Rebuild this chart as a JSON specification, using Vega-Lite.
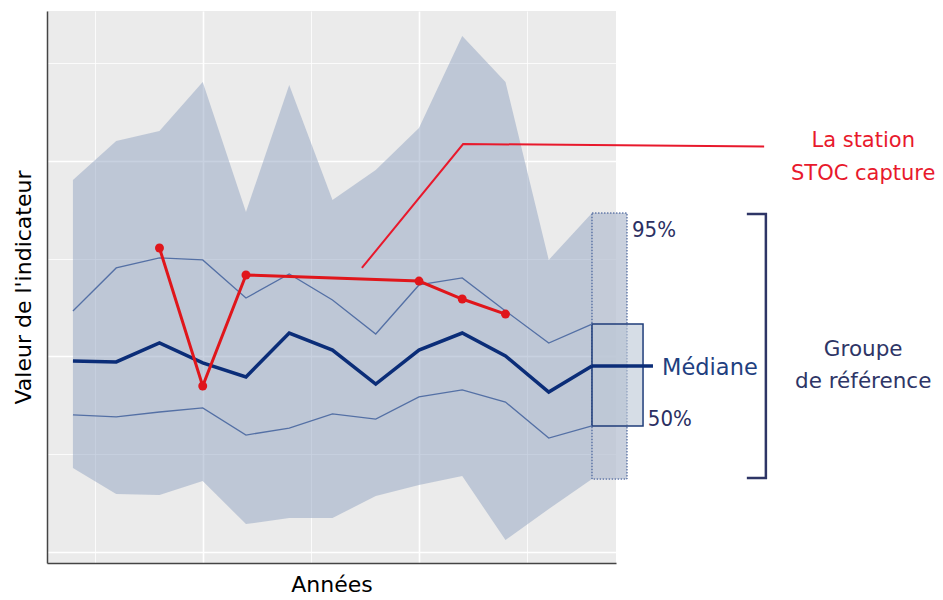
{
  "$schema": "https://vega.github.io/schema/vega-lite/v6.json",
  "width": 569,
  "height": 552,
  "autosize": {"type": "none"},
  "padding": {"left": 47, "top": 11, "right": 327, "bottom": 37},
  "background": "white",
  "config": {
    "font": "DejaVu Sans",
    "view": {"fill": "#EBEBEB", "stroke": null}
  },
  "datasets": {
    "reference": [
      {"annee": 2002, "q025": 4.30, "q25": 7.01, "mediane": 9.77, "q75": 12.33, "q975": 19.03},
      {"annee": 2003, "q025": 2.97, "q25": 6.91, "mediane": 9.72, "q75": 14.53, "q975": 21.02},
      {"annee": 2004, "q025": 2.92, "q25": 7.16, "mediane": 10.69, "q75": 15.04, "q975": 21.53},
      {"annee": 2005, "q025": 3.63, "q25": 7.37, "mediane": 9.67, "q75": 14.94, "q975": 24.04},
      {"annee": 2006, "q025": 1.43, "q25": 5.98, "mediane": 8.95, "q75": 12.99, "q975": 17.39},
      {"annee": 2007, "q025": 1.74, "q25": 6.34, "mediane": 11.20, "q75": 14.22, "q975": 23.89},
      {"annee": 2008, "q025": 1.74, "q25": 7.06, "mediane": 10.33, "q75": 12.89, "q975": 18.01},
      {"annee": 2009, "q025": 2.86, "q25": 6.80, "mediane": 8.59, "q75": 11.15, "q975": 19.54},
      {"annee": 2010, "q025": 3.43, "q25": 7.93, "mediane": 10.33, "q75": 13.66, "q975": 21.69},
      {"annee": 2011, "q025": 3.89, "q25": 8.29, "mediane": 11.20, "q75": 14.02, "q975": 26.39},
      {"annee": 2012, "q025": 0.61, "q25": 7.67, "mediane": 10.03, "q75": 12.33, "q975": 24.04},
      {"annee": 2013, "q025": 2.20, "q25": 5.83, "mediane": 8.18, "q75": 10.69, "q975": 14.94},
      {"annee": 2014, "q025": 3.73, "q25": 6.45, "mediane": 9.51, "q75": 11.66, "q975": 17.34}
    ],
    "station": [
      {"annee": 2004, "valeur": 15.55},
      {"annee": 2005, "valeur": 8.49},
      {"annee": 2006, "valeur": 14.17},
      {"annee": 2010, "valeur": 13.86},
      {"annee": 2011, "valeur": 12.94},
      {"annee": 2012, "valeur": 12.17}
    ],
    "boites": [
      {"boite": "95%", "debut": 2014, "fin": 2014.81, "bas": 3.73, "haut": 17.34},
      {"boite": "50%", "debut": 2014, "fin": 2015.18, "bas": 6.45, "haut": 11.66}
    ],
    "prolongement": [
      {"debut": 2014, "fin": 2015.41, "valeur": 9.51}
    ],
    "renvoi": [
      {"annee": 2008.68, "valeur": 14.53},
      {"annee": 2011.02, "valeur": 20.87},
      {"annee": 2017.98, "valeur": 20.74}
    ],
    "crochet": [
      {"ordre": 1, "annee": 2017.58, "valeur": 17.29},
      {"ordre": 2, "annee": 2018.02, "valeur": 17.29},
      {"ordre": 3, "annee": 2018.02, "valeur": 3.79},
      {"ordre": 4, "annee": 2017.58, "valeur": 3.79}
    ],
    "textes": [
      {"groupe": "station", "texte": "La station", "annee": 2020.27, "valeur": 20.72},
      {"groupe": "station", "texte": "STOC capture", "annee": 2020.27, "valeur": 19.03},
      {"groupe": "reference", "texte": "Groupe", "annee": 2020.27, "valeur": 10.03},
      {"groupe": "reference", "texte": "de référence", "annee": 2020.27, "valeur": 8.39},
      {"groupe": "mediane", "texte": "Médiane", "annee": 2015.62, "valeur": 9.05},
      {"groupe": "pourcent", "texte": "95%", "annee": 2014.925, "valeur": 16.11},
      {"groupe": "pourcent", "texte": "50%", "annee": 2015.29, "valeur": 6.45}
    ]
  },
  "layer": [
    {
      "data": {"name": "reference"},
      "mark": {"type": "area", "color": "#91A3C1", "opacity": 0.5},
      "encoding": {
        "x": {
          "field": "annee", "type": "quantitative",
          "scale": {"domain": [2001.4, 2014.555], "nice": false, "zero": false},
          "axis": {
            "title": "Années", "titleFontSize": 22, "titleFontWeight": "normal", "titleColor": "black",
            "titlePadding": 11, "labels": false, "ticks": false,
            "domainColor": "#444444", "domainWidth": 1.5,
            "values": [2002.5, 2005, 2007.5, 2010, 2012.5],
            "grid": true, "gridColor": "white",
            "gridWidth": {"condition": {"test": "datum.value % 5 === 0", "value": 1.6}, "value": 0.8}
          }
        },
        "y": {
          "field": "q975", "type": "quantitative",
          "scale": {"domain": [-0.563, 27.673], "nice": false, "zero": false},
          "axis": {
            "title": "Valeur de l'indicateur", "titleFontSize": 22, "titleFontWeight": "normal", "titleColor": "black",
            "titlePadding": 12, "labels": false, "ticks": false,
            "domainColor": "#444444", "domainWidth": 1.5,
            "values": [0, 5, 10, 15, 20, 25],
            "grid": true, "gridColor": "white",
            "gridWidth": {"condition": {"test": "datum.value % 10 === 0", "value": 1.6}, "value": 0.8}
          }
        },
        "y2": {"field": "q025"}
      }
    },
    {
      "data": {"name": "boites"},
      "transform": [{"filter": "datum.boite === '95%'"}],
      "mark": {"type": "rect", "fill": "#B7C0D2", "fillOpacity": 0.75, "stroke": "#2B4A8C", "strokeWidth": 1, "strokeDash": [1.5, 1.5]},
      "encoding": {
        "x": {"field": "debut", "type": "quantitative", "scale": {"domain": [2001.4, 2014.555], "nice": false, "zero": false}},
        "x2": {"field": "fin"},
        "y": {"field": "haut", "type": "quantitative", "scale": {"domain": [-0.563, 27.673], "nice": false, "zero": false}},
        "y2": {"field": "bas"}
      }
    },
    {
      "data": {"name": "boites"},
      "transform": [{"filter": "datum.boite === '50%'"}],
      "mark": {"type": "rect", "fill": "#BAC6D6", "fillOpacity": 0.6, "stroke": "#1F3D7A", "strokeWidth": 1.5},
      "encoding": {
        "x": {"field": "debut", "type": "quantitative", "scale": {"domain": [2001.4, 2014.555], "nice": false, "zero": false}},
        "x2": {"field": "fin"},
        "y": {"field": "haut", "type": "quantitative", "scale": {"domain": [-0.563, 27.673], "nice": false, "zero": false}},
        "y2": {"field": "bas"}
      }
    },
    {
      "data": {"name": "reference"},
      "mark": {"type": "line", "color": "#5470A5", "strokeWidth": 1.3},
      "encoding": {
        "x": {"field": "annee", "type": "quantitative", "scale": {"domain": [2001.4, 2014.555], "nice": false, "zero": false}},
        "y": {"field": "q75", "type": "quantitative", "scale": {"domain": [-0.563, 27.673], "nice": false, "zero": false}}
      }
    },
    {
      "data": {"name": "reference"},
      "mark": {"type": "line", "color": "#5470A5", "strokeWidth": 1.3},
      "encoding": {
        "x": {"field": "annee", "type": "quantitative", "scale": {"domain": [2001.4, 2014.555], "nice": false, "zero": false}},
        "y": {"field": "q25", "type": "quantitative", "scale": {"domain": [-0.563, 27.673], "nice": false, "zero": false}}
      }
    },
    {
      "data": {"name": "reference"},
      "mark": {"type": "line", "color": "#0B2D78", "strokeWidth": 3.5},
      "encoding": {
        "x": {"field": "annee", "type": "quantitative", "scale": {"domain": [2001.4, 2014.555], "nice": false, "zero": false}},
        "y": {"field": "mediane", "type": "quantitative", "scale": {"domain": [-0.563, 27.673], "nice": false, "zero": false}}
      }
    },
    {
      "data": {"name": "prolongement"},
      "mark": {"type": "rule", "color": "#0B2D78", "strokeWidth": 3.5},
      "encoding": {
        "x": {"field": "debut", "type": "quantitative", "scale": {"domain": [2001.4, 2014.555], "nice": false, "zero": false}},
        "x2": {"field": "fin"},
        "y": {"field": "valeur", "type": "quantitative", "scale": {"domain": [-0.563, 27.673], "nice": false, "zero": false}}
      }
    },
    {
      "data": {"name": "station"},
      "mark": {"type": "line", "color": "#E0161B", "strokeWidth": 3, "point": {"filled": true, "size": 80, "color": "#E0161B"}},
      "encoding": {
        "x": {"field": "annee", "type": "quantitative", "scale": {"domain": [2001.4, 2014.555], "nice": false, "zero": false}},
        "y": {"field": "valeur", "type": "quantitative", "scale": {"domain": [-0.563, 27.673], "nice": false, "zero": false}}
      }
    },
    {
      "data": {"name": "renvoi"},
      "mark": {"type": "line", "color": "#E8192C", "strokeWidth": 2},
      "encoding": {
        "x": {"field": "annee", "type": "quantitative", "scale": {"domain": [2001.4, 2014.555], "nice": false, "zero": false}},
        "y": {"field": "valeur", "type": "quantitative", "scale": {"domain": [-0.563, 27.673], "nice": false, "zero": false}}
      }
    },
    {
      "data": {"name": "crochet"},
      "mark": {"type": "line", "color": "#2E3566", "strokeWidth": 2.5, "strokeJoin": "miter"},
      "encoding": {
        "x": {"field": "annee", "type": "quantitative", "scale": {"domain": [2001.4, 2014.555], "nice": false, "zero": false}},
        "y": {"field": "valeur", "type": "quantitative", "scale": {"domain": [-0.563, 27.673], "nice": false, "zero": false}},
        "order": {"field": "ordre"}
      }
    },
    {
      "data": {"name": "textes"},
      "transform": [{"filter": "datum.groupe === 'station'"}],
      "mark": {"type": "text", "align": "center", "baseline": "alphabetic", "fontSize": 21, "color": "#E8192C"},
      "encoding": {
        "x": {"field": "annee", "type": "quantitative", "scale": {"domain": [2001.4, 2014.555], "nice": false, "zero": false}},
        "y": {"field": "valeur", "type": "quantitative", "scale": {"domain": [-0.563, 27.673], "nice": false, "zero": false}},
        "text": {"field": "texte"}
      }
    },
    {
      "data": {"name": "textes"},
      "transform": [{"filter": "datum.groupe === 'reference'"}],
      "mark": {"type": "text", "align": "center", "baseline": "alphabetic", "fontSize": 21.5, "color": "#2E3566"},
      "encoding": {
        "x": {"field": "annee", "type": "quantitative", "scale": {"domain": [2001.4, 2014.555], "nice": false, "zero": false}},
        "y": {"field": "valeur", "type": "quantitative", "scale": {"domain": [-0.563, 27.673], "nice": false, "zero": false}},
        "text": {"field": "texte"}
      }
    },
    {
      "data": {"name": "textes"},
      "transform": [{"filter": "datum.groupe === 'mediane'"}],
      "mark": {"type": "text", "align": "left", "baseline": "alphabetic", "fontSize": 22.5, "color": "#1F3F7F"},
      "encoding": {
        "x": {"field": "annee", "type": "quantitative", "scale": {"domain": [2001.4, 2014.555], "nice": false, "zero": false}},
        "y": {"field": "valeur", "type": "quantitative", "scale": {"domain": [-0.563, 27.673], "nice": false, "zero": false}},
        "text": {"field": "texte"}
      }
    },
    {
      "data": {"name": "textes"},
      "transform": [{"filter": "datum.groupe === 'pourcent'"}],
      "mark": {"type": "text", "align": "left", "baseline": "alphabetic", "fontSize": 22, "color": "#2B2F63", "font": "DejaVu Sans Condensed"},
      "encoding": {
        "x": {"field": "annee", "type": "quantitative", "scale": {"domain": [2001.4, 2014.555], "nice": false, "zero": false}},
        "y": {"field": "valeur", "type": "quantitative", "scale": {"domain": [-0.563, 27.673], "nice": false, "zero": false}},
        "text": {"field": "texte"}
      }
    }
  ]
}
